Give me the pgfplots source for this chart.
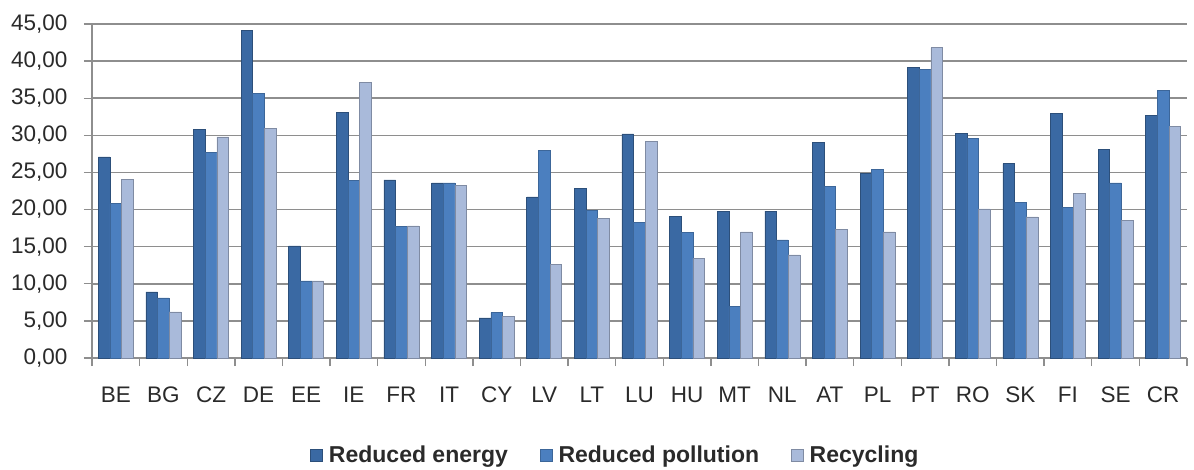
\documentclass[border=0pt]{standalone}
\usepackage{fontspec}
\setmainfont{Liberation Sans}
\usepackage{pgfplots}
\usepackage{pgfplotstable}
\pgfplotsset{compat=1.18}
\definecolor{sA}{HTML}{3A69A3}
\definecolor{sB}{HTML}{4B7FBF}
\definecolor{sC}{HTML}{A9BADA}
\definecolor{gridc}{HTML}{8E8E8E}
\definecolor{txt}{HTML}{2A2A2A}

\pgfplotstableread{
x  energy pollution recycling
0  27.1 20.8 24.1
1  8.9  8.1  6.2
2  30.8 27.7 29.8
3  44.1 35.6 30.9
4  15.1 10.4 10.4
5  33.1 23.9 37.1
6  24.0 17.7 17.8
7  23.6 23.6 23.3
8  5.4  6.1  5.6
9  21.7 28.0 12.6
10 22.9 19.9 18.8
11 30.2 18.3 29.2
12 19.1 16.9 13.4
13 19.8 6.9  17.0
14 19.8 15.9 13.9
15 29.0 23.1 17.3
16 24.9 25.4 17.0
17 39.2 38.9 41.8
18 30.3 29.6 20.1
19 26.2 21.0 19.0
20 33.0 20.3 22.2
21 28.1 23.6 18.5
22 32.7 36.1 31.2
}\datatable

\begin{document}
\begin{tikzpicture}
\path[use as bounding box] (-92pt,-111pt) rectangle (1102pt,358pt);
\begin{axis}[
  at={(0pt,0pt)}, anchor=south west,
  scale only axis, width=1095pt, height=334pt,
  xmin=-0.5, xmax=22.5, ymin=0, ymax=45,
  axis x line*=bottom, axis y line*=left,
  axis line style={gridc, line width=1.6pt},
  ytick={0,5,...,45},
  xtick={0,...,22},
  xticklabels={BE,BG,CZ,DE,EE,IE,FR,IT,CY,LV,LT,LU,HU,MT,NL,AT,PL,PT,RO,SK,FI,SE,CR},
  minor xtick={-0.5,0.5,...,22.5},
  major x tick style={draw=none},
  minor x tick style={gridc, line width=1.4pt},
  y tick style={gridc, line width=1.4pt},
  tick align=outside,
  major tick length=8pt, minor tick length=8pt,
  ymajorgrids,
  grid style={gridc, line width=1.6pt},
  tick label style={font=\fontsize{22.5}{27}\selectfont, text=txt},
  yticklabel style={xshift=-13pt,
    /pgf/number format/.cd, fixed, fixed zerofill, precision=2, use comma, assume math mode=true},
  xticklabel style={yshift=-17pt},
  ybar, bar width=0.245,
  legend style={draw=none, fill=none, at={(0.478,-0.29)}, anchor=center,
    legend columns=3, font=\fontsize{23}{27}\selectfont\bfseries, text=txt,
    /tikz/every odd column/.append style={column sep=4pt},
    /tikz/every even column/.append style={column sep=30pt}},
  legend image code/.code={\fill[#1] (0pt,-6pt) rectangle (12pt,6pt);},
]
\addplot[fill=sA, draw=sA!75!black, line width=0.6pt, bar shift=-0.245] table[x=x,y=energy]{\datatable};
\addplot[fill=sB, draw=sB!80!black, line width=0.6pt, bar shift=0] table[x=x,y=pollution]{\datatable};
\addplot[fill=sC, draw=sC!75!black, line width=0.6pt, bar shift=0.245] table[x=x,y=recycling]{\datatable};
\legend{Reduced energy,Reduced pollution,Recycling}
\end{axis}
\end{tikzpicture}
\end{document}
